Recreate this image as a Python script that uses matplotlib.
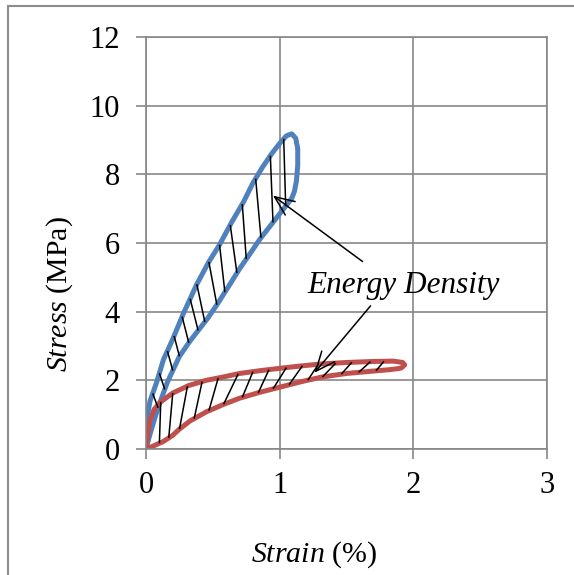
import numpy as np
import matplotlib
matplotlib.use("Agg")
import matplotlib.pyplot as plt
from matplotlib.patches import Rectangle

plt.rcParams["font.family"] = ["Liberation Serif", "DejaVu Serif"]
plt.rcParams["mathtext.fontset"] = "custom"
plt.rcParams["mathtext.rm"] = "Liberation Serif"
plt.rcParams["mathtext.it"] = "Liberation Serif:italic"

# Blue hysteresis loop: loading branch (upper) and unloading branch (lower), both from origin outward
blue_up_x = [0.0, 0.005, 0.03, 0.08, 0.13, 0.2, 0.28, 0.38, 0.47, 0.55, 0.64, 0.73, 0.80, 0.87, 0.94, 1.0, 1.05, 1.09]
blue_up_y = [0.0, 0.85, 1.4, 1.95, 2.6, 3.2, 3.95, 4.8, 5.45, 5.95, 6.6, 7.2, 7.75, 8.2, 8.6, 8.9, 9.12, 9.18]
blue_tip_x = [1.12, 1.135, 1.135, 1.125, 1.11]
blue_tip_y = [9.05, 8.75, 8.25, 7.8, 7.5]
blue_dn_x = [0.0, 0.02, 0.05, 0.09, 0.16, 0.25, 0.33, 0.39, 0.46, 0.53, 0.62, 0.70, 0.78, 0.85, 0.93, 1.0, 1.06, 1.09]
blue_dn_y = [0.0, 0.3, 0.7, 1.2, 1.95, 2.7, 3.15, 3.45, 3.8, 4.2, 4.75, 5.25, 5.7, 6.1, 6.5, 6.85, 7.15, 7.3]

# Red hysteresis loop: loading branch (upper) and unloading branch (lower)
red_up_x = [0.0, 0.005, 0.03, 0.06, 0.105, 0.2, 0.32, 0.45, 0.58, 0.7, 0.85, 1.0, 1.16, 1.32, 1.5, 1.7, 1.85, 1.92]
red_up_y = [0.0, 0.2, 0.85, 1.15, 1.36, 1.63, 1.85, 2.0, 2.1, 2.2, 2.28, 2.35, 2.42, 2.48, 2.52, 2.55, 2.56, 2.52]
red_tip_x = [1.935, 1.91]
red_tip_y = [2.45, 2.36]
red_dn_x = [0.0, 0.05, 0.13, 0.2, 0.25, 0.33, 0.45, 0.58, 0.7, 0.85, 1.0, 1.16, 1.32, 1.5, 1.7, 1.82, 1.88]
red_dn_y = [0.0, 0.08, 0.22, 0.4, 0.58, 0.82, 1.08, 1.3, 1.48, 1.65, 1.8, 1.96, 2.1, 2.2, 2.27, 2.31, 2.34]

# Hatch strokes: x where each stroke meets the upper and the lower branch
blue_hatch_top = [0.05, 0.1, 0.16, 0.21, 0.27, 0.33, 0.38, 0.47, 0.55, 0.63, 0.72, 0.82, 0.93, 1.03]
blue_hatch_bot = [0.09, 0.14, 0.2, 0.25, 0.32, 0.39, 0.44, 0.53, 0.59, 0.68, 0.75, 0.86, 0.95, 1.045]
red_hatch_bot = [0.10, 0.17, 0.25, 0.36, 0.47, 0.58, 0.72, 0.84, 0.95, 1.07, 1.21, 1.32, 1.46, 1.59, 1.72]
red_hatch_top = [0.11, 0.20, 0.31, 0.42, 0.54, 0.69, 0.80, 0.92, 1.05, 1.17, 1.29, 1.42, 1.54, 1.68, 1.78]

x_ticks = [0, 1, 2, 3]
y_ticks = [0, 2, 4, 6, 8, 10, 12]

BLUE = "#4F81BD"
RED = "#C0504D"
GRID = "#878787"

fig = plt.figure(figsize=(5.74, 5.75), dpi=100)
ax = fig.add_axes([0.2544, 0.2191, 0.6986, 0.7166])

ax.set_xlim(0, 3)
ax.set_ylim(0, 12)
ax.set_xticks(x_ticks)
ax.set_yticks(y_ticks)
ax.grid(True, color=GRID, linewidth=1.2)
ax.set_axisbelow(True)
for s in ax.spines.values():
    s.set_color(GRID)
    s.set_linewidth(1.2)
ax.tick_params(axis="both", colors=GRID, labelcolor="black", labelsize=22,
               length=7, width=1.2, direction="out")
ax.tick_params(axis="x", pad=9)
ax.tick_params(axis="y", pad=12)

# loops
bx = blue_up_x + blue_tip_x + blue_dn_x[::-1]
by = blue_up_y + blue_tip_y + blue_dn_y[::-1]
rx = red_up_x + red_tip_x + red_dn_x[::-1]
ry = red_up_y + red_tip_y + red_dn_y[::-1]

# hatch strokes between branches
for xt, xb in zip(blue_hatch_top, blue_hatch_bot):
    yt = np.interp(xt, blue_up_x, blue_up_y)
    yb = np.interp(xb, blue_dn_x, blue_dn_y)
    ax.plot([xt, xb], [yt, yb], color="black", lw=1.1, zorder=3, solid_capstyle="butt")
for xb, xt in zip(red_hatch_bot, red_hatch_top):
    yb = np.interp(xb, red_dn_x, red_dn_y)
    yt = np.interp(xt, red_up_x, red_up_y)
    ax.plot([xb, xt], [yb, yt], color="black", lw=1.1, zorder=3, solid_capstyle="butt")

ax.plot(bx, by, color=BLUE, lw=3.6, solid_joinstyle="round", solid_capstyle="round", zorder=2)
ax.plot(rx, ry, color=RED, lw=3.6, solid_joinstyle="round", solid_capstyle="round", zorder=2)

# annotation
arrow = dict(arrowstyle="->,head_length=0.7,head_width=0.3", color="black", lw=1.1,
             shrinkA=0, shrinkB=0, mutation_scale=20)
ax.annotate("", xy=(0.95, 7.38), xytext=(1.62, 5.46), arrowprops=arrow, zorder=4)
ax.annotate("", xy=(1.26, 2.22), xytext=(1.68, 4.17), arrowprops=arrow, zorder=4)
ax.text(1.21, 4.55, "Energy Density", style="italic", fontsize=22.5, ha="left",
        va="baseline", zorder=5)

# axis titles
ax.text(-0.215, 0.376, r"$\mathit{Stress}$ (MPa)", rotation=90, ha="center", va="center",
        fontsize=21.5, transform=ax.transAxes)
ax.text(0.42, -0.257, r"$\mathit{Strain}$ (%)", ha="center", va="center",
        fontsize=21.5, transform=ax.transAxes)

# outer frame
fig.patches.append(Rectangle((0.0139, -0.1), 1.2, 1.0896, transform=fig.transFigure,
                             fill=False, edgecolor="#8c8c8c", linewidth=1.5))

fig.savefig("out.png", dpi=100)
